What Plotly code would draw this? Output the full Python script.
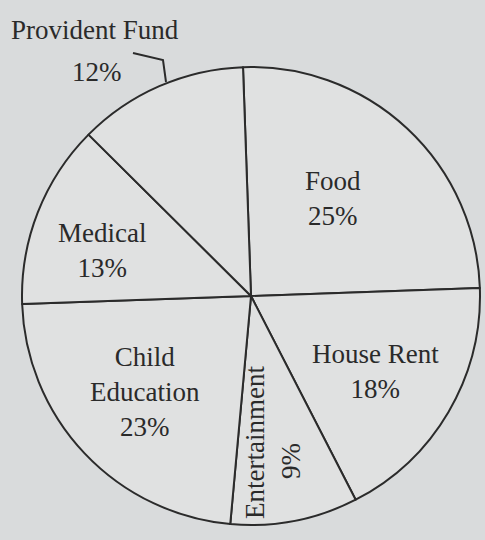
import plotly.graph_objects as go

categories = ["Food", "House Rent", "Entertainment", "Child Education", "Medical", "Provident Fund"]
shares = [25, 18, 9, 23, 13, 12]

W, H = 485, 540
def px(x): return x / W
def py(y): return 1 - y / H

BG = "#d9dbdc"
fig = go.Figure(go.Pie(
    labels=categories, values=shares, sort=False, direction="clockwise", rotation=-2,
    textinfo="none", hoverinfo="none", showlegend=False,
    marker=dict(colors=["#e0e1e1"] * len(categories), line=dict(color="#2b2b2b", width=2)),
    domain=dict(x=[px(22), px(480)], y=[py(525), py(67)]),
))

font = dict(family="Liberation Serif, Times New Roman, serif", size=27, color="#2a2a2a")
labels = [
    ("Provident Fund", 95, 30, 0),
    ("12%", 97, 72, 0),
    ("Food<br>25%", 333, 199, 0),
    ("Medical<br>13%", 102, 250, 0),
    ("House Rent<br>18%", 375, 371, 0),
    ("Child<br>Education<br>23%", 145, 392, 0),
    ("Entertainment", 255, 443, -90),
    ("9%", 291, 461, -90),
]
for txt, x, y, ang in labels:
    fig.add_annotation(text=txt, x=px(x), y=py(y), xref="paper", yref="paper",
                       showarrow=False, font=font, textangle=ang,
                       xanchor="center", yanchor="middle")

fig.add_shape(type="path", xref="paper", yref="paper",
              path=f"M {px(133)} {py(53)} L {px(163)} {py(60)} L {px(166)} {py(82)}",
              line=dict(color="#2b2b2b", width=2))

fig.update_layout(width=W, height=H, margin=dict(l=0, r=0, t=0, b=0),
                  paper_bgcolor=BG, plot_bgcolor=BG)
fig.write_html("out.html", config={"displayModeBar": False},
               post_script=f"document.body.style.margin='0';document.body.style.background='{BG}';")
